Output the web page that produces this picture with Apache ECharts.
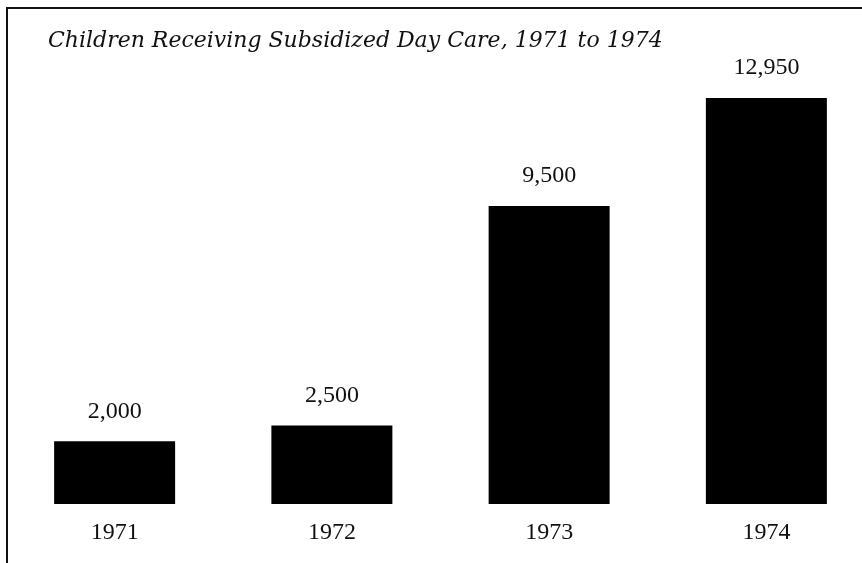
<!DOCTYPE html>
<html>
<head>
<meta charset="utf-8">
<script src="https://cdn.jsdelivr.net/npm/echarts@6/dist/echarts.min.js"></script>
<style>
  html, body { margin: 0; padding: 0; background: #fff; }
  #chart { width: 862px; height: 563px; }
</style>
</head>
<body>
<div id="chart"></div>
<script>
const titleText = 'Children Receiving Subsidized Day Care, 1971 to 1974';
const years = ['1971', '1972', '1973', '1974'];
const children = [2000, 2500, 9500, 12950];

const chart = echarts.init(document.getElementById('chart'), null, { renderer: 'canvas' });
chart.setOption({
  backgroundColor: '#ffffff',
  animation: false,
  title: {
    text: titleText,
    left: 43,
    top: 25,
    textStyle: {
      fontFamily: 'DejaVu Serif',
      fontStyle: 'italic',
      fontWeight: 'normal',
      fontSize: 22,
      color: '#111'
    }
  },
  graphic: [{
    type: 'polyline',
    shape: { points: [[7, 563], [7, 8], [862, 8]] },
    style: { stroke: '#111', lineWidth: 2, fill: null }
  }],
  grid: { left: 6, right: -13, top: 65, bottom: 59, containLabel: false, outerBoundsMode: 'none' },
  xAxis: {
    type: 'category',
    data: years,
    axisLine: { show: false },
    axisTick: { show: false },
    axisLabel: {
      margin: 17,
      fontFamily: 'Liberation Serif',
      fontSize: 24,
      color: '#111'
    }
  },
  yAxis: {
    type: 'value',
    min: 0,
    max: 14000,
    show: false,
    splitLine: { show: false }
  },
  series: [{
    type: 'bar',
    data: children,
    barWidth: 121,
    itemStyle: { color: '#000' },
    label: {
      show: true,
      position: 'top',
      distance: 18,
      fontFamily: 'Liberation Serif',
      fontSize: 24,
      color: '#111',
      formatter: p => p.value.toLocaleString('en-US')
    }
  }]
});
</script>
</body>
</html>
